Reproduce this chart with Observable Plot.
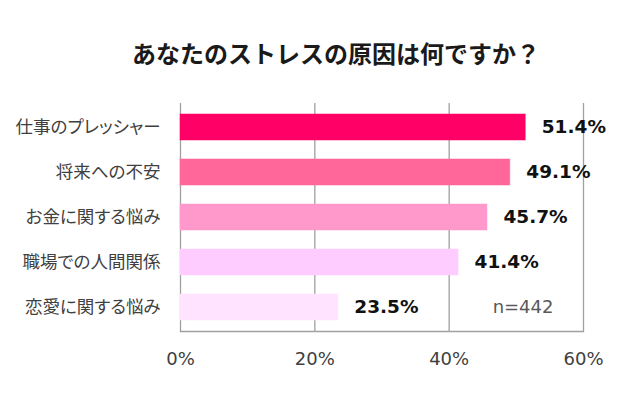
<!DOCTYPE html>
<html>
<head>
<meta charset="utf-8">
<script src="https://cdn.jsdelivr.net/npm/d3@7"></script>
<script src="https://cdn.jsdelivr.net/npm/@observablehq/plot@0.6"></script>
<style>
  html, body { margin: 0; padding: 0; background: #fff; }
  #wrap { position: relative; width: 640px; height: 397px; }
  #title { position: absolute; top: 0; left: 0; width: 640px; height: 80px; }
  #title span { position: absolute; left: 336px; top: 52px; transform: translate(-50%, -50%);
    font-family: "Noto Sans CJK JP", sans-serif; font-weight: bold; font-size: 24px; color: #1a1a1a;
    white-space: nowrap; }
  #chart { position: absolute; top: 80px; left: 0; }
  #chart svg g[aria-label="y-axis tick label"] text { font-feature-settings: "palt"; }
</style>
</head>
<body>
<div id="wrap">
  <div id="title"><span></span></div>
  <div id="chart"></div>
</div>
<script>
const titleText = "あなたのストレスの原因は何ですか？";
const categories = ["仕事のプレッシャー", "将来への不安", "お金に関する悩み", "職場での人間関係", "恋愛に関する悩み"];
const values = [51.4, 49.1, 45.7, 41.4, 23.5];
const colors = ["#FF0066", "#FF6699", "#FF99CC", "#FFCCFF", "#FFE3FF"];
const ticks = [0, 20, 40, 60];
const nLabel = "n=442";
const nPosition = { x: 51, category: "恋愛に関する悩み" };

document.querySelector("#title span").textContent = titleText;

const data = categories.map((c, i) => ({ cat: c, value: values[i], color: colors[i] }));

const chart = Plot.plot({
  width: 640,
  height: 317,
  marginTop: 23,
  marginBottom: 66,
  marginLeft: 180,
  marginRight: 57,
  style: { fontFamily: "'DejaVu Sans', sans-serif", color: "#404040", background: "#fff" },
  x: { domain: [0, 60], ticks: ticks, tickFormat: d => d + "%", label: null },
  y: { domain: categories, paddingInner: 0.43, paddingOuter: 0.21, label: null },
  color: { type: "identity" },
  marks: [
    Plot.ruleX(ticks, { stroke: "#a0a0a0", strokeWidth: 1.3 }),
    Plot.frame({ anchor: "bottom", stroke: "#a0a0a0", strokeWidth: 1.3 }),
    Plot.barX(data, { x: "value", y: "cat", fill: "color", stroke: "color", strokeOpacity: 0.5 }),
    Plot.text(data, {
      x: "value", y: "cat", text: d => d.value.toFixed(1) + "%",
      textAnchor: "start", dx: 16, fontWeight: "bold", fontSize: 18.5, fill: "#111"
    }),
    Plot.text([nLabel], {
      x: () => nPosition.x, y: () => nPosition.category, text: d => d,
      fontSize: 18, fill: "#595959"
    }),
    Plot.axisX({ ticks: ticks, tickFormat: d => d + "%", tickSize: 0, tickPadding: 21, fontSize: 18, label: null }),
    Plot.axisY({ tickSize: 0, tickPadding: 20, fontSize: 17.5, label: null, fontFamily: "'Noto Sans CJK JP', sans-serif" })
  ]
});
document.getElementById("chart").appendChild(chart);
</script>
</body>
</html>
